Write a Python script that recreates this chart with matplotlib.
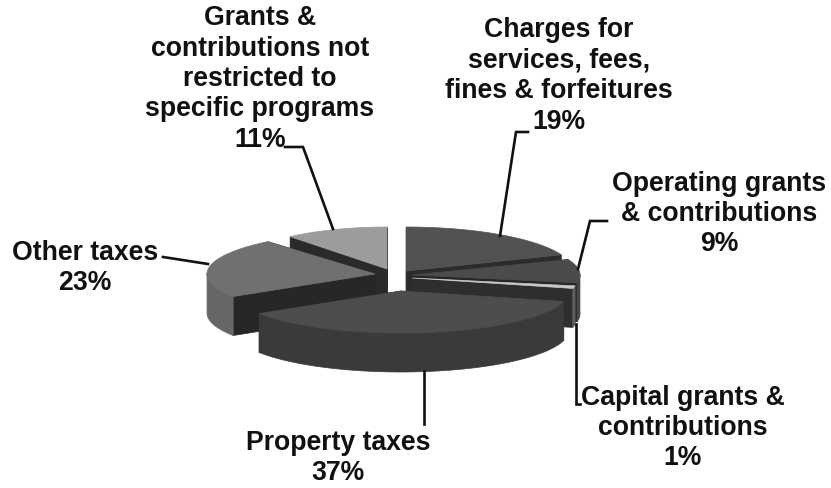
import numpy as np
import matplotlib
matplotlib.use('Agg')
import matplotlib.pyplot as plt

names = ['Charges for\nservices, fees,\nfines & forfeitures',
         'Operating grants\n& contributions',
         'Capital grants &\ncontributions',
         'Property taxes',
         'Other taxes',
         'Grants &\ncontributions not\nrestricted to\nspecific programs']
shares = [19, 9, 1, 37, 23, 11]

# apex of every slice after it is pulled out of the pie
centers = [(406, 272), (412, 276), (412, 279), (401, 292), (375, 275), (387, 270)]
radii = [(167, 44), (168, 42), (166, 42), (168, 42), (168, 42), (152, 42)]
top_col = ['#525252', '#4b4b4b', '#c9c9c9', '#4d4d4d', '#707070', '#9c9c9c']
rim_col = ['#454545', '#474747', '#606060', '#3a3a3a', '#666666', '#8c8c8c']
cut_col = ['#2c2c2c', '#262626', '#2e2e2e', '#2a2a2a', '#272727', '#2a2a2a']
draw_order = [5, 0, 1, 2, 4, 3]
depth = 39

label_pos = [(559, 76), (719, 214), (683, 428), (338, 458), (85, 268), (260, 79)]
leaders = [[(528, 133), (516, 133), (500, 237)],
           [(607, 222), (590, 222), (578, 270)],
           [(580, 405), (576, 405), (576, 325)],
           [(424, 425), (424, 372)],
           [(163, 258), (208, 265)],
           [(285, 148), (303, 148), (333, 230)]]

fig = plt.figure(figsize=(8.31, 4.89), dpi=100)
ax = fig.add_axes([0, 0, 1, 1])
ax.set_xlim(0, 831)
ax.set_ylim(489, 0)
ax.axis('off')

edges = np.cumsum([0] + shares) / sum(shares) * 2 * np.pi


def arc(i, a, b):
    t = np.linspace(a, b, 80)
    cx, cy = centers[i]
    rx, ry = radii[i]
    return cx + rx * np.sin(t), cy - ry * np.cos(t)


def draw_slice(i):
    a, b = edges[i], edges[i + 1]
    cx, cy = centers[i]
    x, y = arc(i, a, b)

    # cut faces at both ends of the slice
    for k in [0, -1]:
        xs = [cx, x[k], x[k], cx]
        ys = [cy, y[k], y[k] + depth, cy + depth]
        ax.fill(xs, ys, color=cut_col[i], lw=0.5, zorder=2)

    # outer wall, only the lower half of the ellipse shows
    t = np.linspace(a, b, 80)
    front = np.cos(t) <= 0.02
    if front.any():
        xf, yf = x[front], y[front]
        ax.fill(np.r_[xf, xf[::-1]], np.r_[yf, yf[::-1] + depth],
                color=rim_col[i], lw=0.5, zorder=2)
    ax.fill(np.r_[cx, x], np.r_[cy, y], color=top_col[i], lw=0.5, zorder=2)


for i in draw_order:
    draw_slice(i)

for pts in leaders:
    p = np.array(pts)
    ax.plot(p[:, 0], p[:, 1], color='#111111', lw=1.9, zorder=4,
            solid_joinstyle='miter')

for i in range(len(names)):
    ax.text(label_pos[i][0], label_pos[i][1], '%s\n%d%%' % (names[i], shares[i]),
            ha='center', va='center', fontsize=19.2, fontweight='bold',
            family='Liberation Sans', linespacing=1.22, color='#111111', zorder=5)

fig.savefig('out.png', dpi=100)
